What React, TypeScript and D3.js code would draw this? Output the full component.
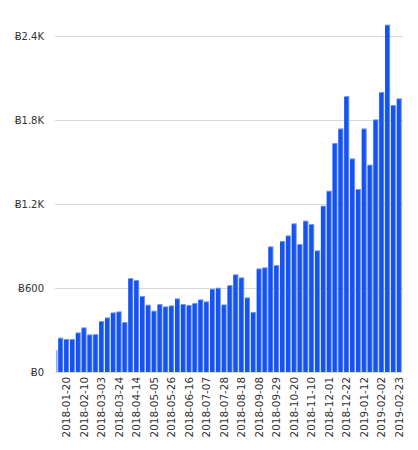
import React, { useRef, useEffect } from 'react';
import * as d3 from 'd3';

// weekly volume, first week is the partly hidden one on the left edge
const FIRST_WEEK = '2018-01-06';
const VOLUMES = [
  157,
  245, 236, 236, 283, 319, 269, 271, 364, 390, 426,
  433, 357, 671, 657, 543, 481, 438, 486, 469, 476,
  526, 486, 479, 493, 519, 505, 595, 602, 483, 621,
  698, 676, 533, 429, 740, 748, 898, 764, 936, 976,
  1062, 914, 1081, 1057, 869, 1188, 1295, 1636, 1740, 1971,
  1526, 1307, 1740, 1481, 1805, 2000, 2481, 1907, 1955,
];
const X_TICKS = [
  '2018-01-20', '2018-02-10', '2018-03-03', '2018-03-24', '2018-04-14',
  '2018-05-05', '2018-05-26', '2018-06-16', '2018-07-07', '2018-07-28',
  '2018-08-18', '2018-09-08', '2018-09-29', '2018-10-20', '2018-11-10',
  '2018-12-01', '2018-12-22', '2019-01-12', '2019-02-02', '2019-02-23',
];
const Y_TICKS = [0, 600, 1200, 1800, 2400];
const Y_LABELS = ['Ƀ0', 'Ƀ600', 'Ƀ1.2K', 'Ƀ1.8K', 'Ƀ2.4K'];

const BLUE = '#1652f0';
const EDGE = '#6d97f6';

export default function App() {
  const svgRef = useRef<SVGSVGElement>(null);

  useEffect(() => {
    document.body.style.margin = '0';
    if (!svgRef.current) return;
    const svg = d3.select(svgRef.current);
    svg.selectAll('*').remove();

    const parse = d3.utcParse('%Y-%m-%d');
    const start = parse(FIRST_WEEK)!;
    const data = VOLUMES.map((v, i) => ({ date: d3.utcDay.offset(start, 7 * i), value: v }));

    const x = d3
      .scaleUtc()
      .domain([parse('2018-01-13')!, parse('2019-03-02')!])
      .range([58.3, 402.6]);
    const y = d3.scaleLinear().domain([0, 2400]).range([372, 36]);

    svg
      .append('defs')
      .append('clipPath')
      .attr('id', 'plot-clip')
      .append('rect')
      .attr('x', 56.5)
      .attr('y', 0)
      .attr('width', 403 - 56.5)
      .attr('height', 373);

    // gridlines
    svg
      .append('g')
      .selectAll('line')
      .data(Y_TICKS)
      .enter()
      .append('line')
      .attr('x1', 55)
      .attr('x2', 403)
      .attr('y1', (d) => Math.round(y(d)) + 0.5)
      .attr('y2', (d) => Math.round(y(d)) + 0.5)
      .attr('stroke', '#d9d9d9')
      .attr('stroke-width', 1);

    svg
      .append('g')
      .selectAll('text')
      .data(Y_TICKS)
      .enter()
      .append('text')
      .attr('x', 44)
      .attr('y', (d) => y(d))
      .attr('dy', '0.35em')
      .attr('text-anchor', 'end')
      .attr('fill', '#333')
      .style('font-family', '"DejaVu Sans", Verdana, sans-serif')
      .style('font-size', '10px')
      .text((d, i) => Y_LABELS[i]);

    const bars = svg.append('g').attr('clip-path', 'url(#plot-clip)');
    const w = (d: { date: Date }) => x(d3.utcDay.offset(d.date, 7)) - x(d.date) - 0.8;

    bars
      .selectAll('rect.edge')
      .data(data)
      .enter()
      .append('rect')
      .attr('class', 'edge')
      .attr('x', (d) => x(d.date))
      .attr('y', (d) => y(d.value))
      .attr('width', w)
      .attr('height', (d) => y(0) - y(d.value))
      .attr('fill', EDGE);

    bars
      .selectAll('rect.bar')
      .data(data)
      .enter()
      .append('rect')
      .attr('class', 'bar')
      .attr('x', (d) => x(d.date))
      .attr('y', (d) => y(d.value) + 1)
      .attr('width', (d) => w(d) - 1)
      .attr('height', (d) => y(0) - y(d.value) - 1)
      .attr('fill', BLUE);

    svg
      .append('g')
      .selectAll('text')
      .data(X_TICKS)
      .enter()
      .append('text')
      .attr('transform', (d) => {
        const dt = parse(d)!;
        const cx = (x(dt) + x(d3.utcDay.offset(dt, 7)) - 0.8) / 2;
        return `translate(${cx},377) rotate(-90)`;
      })
      .attr('dy', '0.35em')
      .attr('text-anchor', 'end')
      .attr('fill', '#333')
      .style('font-family', '"DejaVu Sans", Verdana, sans-serif')
      .style('font-size', '10.4px')
      .text((d) => d);
  }, []);

  return <svg ref={svgRef} width={418} height={450} style={{ display: 'block' }} />;
}
